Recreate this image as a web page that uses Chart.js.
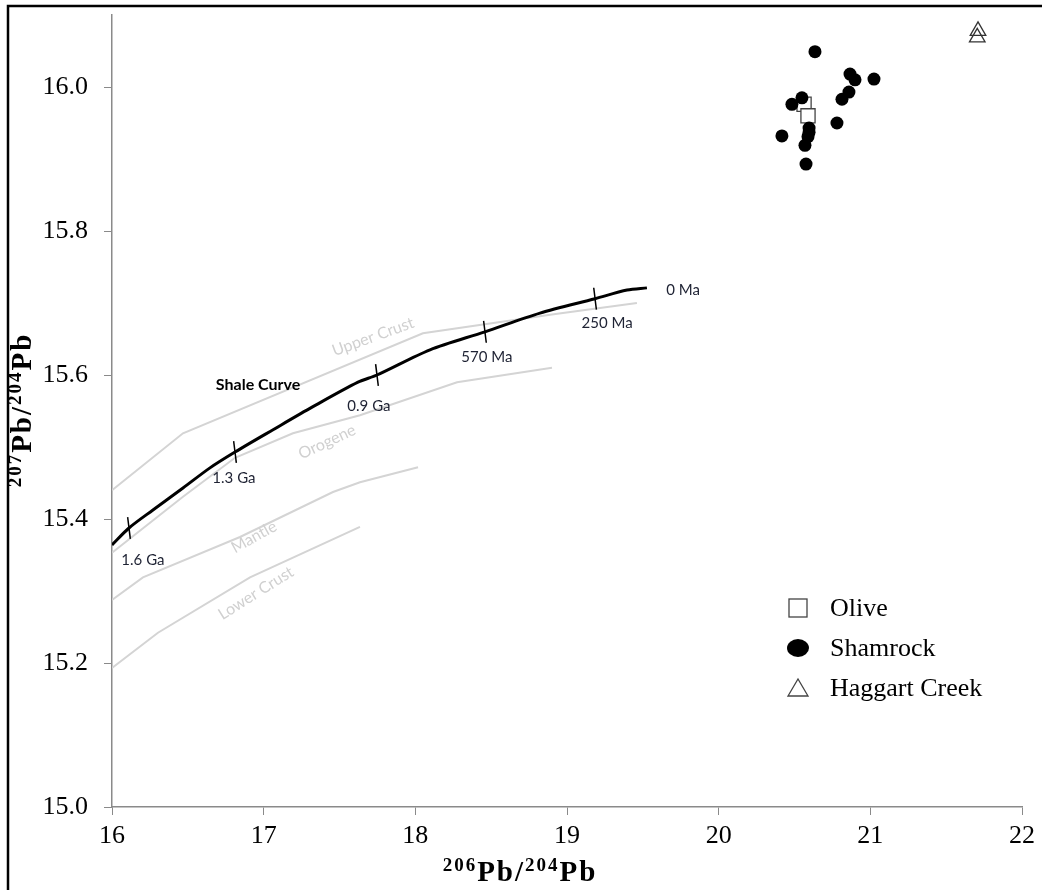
<!DOCTYPE html>
<html>
<head>
<meta charset="utf-8">
<script src="https://cdn.jsdelivr.net/npm/chart.js@4"></script>
<style>
  body { margin: 0; background: #fff; }
  #wrap { width: 1042px; height: 890px; position: relative; }
</style>
</head>
<body>
<div id="wrap"><canvas id="leadChart"></canvas></div>
<script>
// shale growth curve (206Pb/204Pb, 207Pb/204Pb)
const shaleX = [16.0, 16.112, 16.27, 16.468, 16.646, 16.811, 17.062, 17.325, 17.622, 17.747, 18.097, 18.459, 18.822, 19.185, 19.396, 19.527];
const shaleY = [15.364, 15.3875, 15.4125, 15.443, 15.471, 15.493, 15.524, 15.556, 15.59, 15.6, 15.635, 15.66, 15.686, 15.706, 15.718, 15.721];

// reservoir curves (grey)
const upperCrustX = [16.0, 16.468, 18.05, 18.9, 19.461];
const upperCrustY = [15.44, 15.519, 15.658, 15.684, 15.7];
const orogeneX = [16.0, 16.468, 16.811, 17.193, 17.635, 18.275, 18.901];
const orogeneY = [15.353, 15.431, 15.485, 15.519, 15.544, 15.59, 15.61];
const mantleX = [16.0, 16.204, 16.844, 17.457, 17.635, 18.018];
const mantleY = [15.2875, 15.319, 15.375, 15.4375, 15.451, 15.472];
const lowerCrustX = [16.0, 16.303, 16.91, 17.635];
const lowerCrustY = [15.193, 15.242, 15.319, 15.389];

// age marks on the shale curve
const ageX = [16.112, 16.811, 17.747, 18.459, 19.185];
const ageY = [15.3875, 15.493, 15.6, 15.66, 15.706];
const ageLabels = ["1.6 Ga", "1.3 Ga", "0.9 Ga", "570 Ma", "250 Ma", "0 Ma"];
const ageLabelX = [16.204, 16.804, 17.694, 18.472, 19.264, 19.765];
const ageLabelY = [15.343, 15.457, 15.557, 15.625, 15.672, 15.718];

// curve names
const curveNames = ["Shale Curve", "Upper Crust", "Orogene", "Mantle", "Lower Crust"];
const curveNameX = [16.963, 17.721, 17.418, 16.936, 16.949];
const curveNameY = [15.586, 15.653, 15.507, 15.375, 15.297];
const curveNameAngle = [0, -20, -25, -29, -32];

// samples
const shamrockX = [20.635, 20.866, 20.899, 21.024, 20.859, 20.813, 20.483, 20.549, 20.78, 20.417, 20.596, 20.596, 20.589, 20.569, 20.576];
const shamrockY = [16.049, 16.018, 16.01, 16.011, 15.993, 15.983, 15.976, 15.985, 15.95, 15.932, 15.943, 15.937, 15.931, 15.919, 15.893];
const oliveX = [20.563, 20.589];
const oliveY = [15.976, 15.96];
const haggartX = [21.71, 21.705];
const haggartY = [16.078, 16.069];

const legendNames = ["Olive", "Shamrock", "Haggart Creek"];

function toPoints(xs, ys) {
    return xs.map(function(x, i) { return {x: x, y: ys[i]}; });
}

function greyLine(xs, ys) {
    return {
        data: toPoints(xs, ys),
        showLine: true,
        borderColor: "#d4d4d4",
        borderWidth: 2,
        pointRadius: 0,
        tension: 0,
        order: 5
    };
}

// draws "207Pb/204Pb" style text with raised isotope numbers, baseline at cy
function drawIsotopeText(ctx, parts, cx, cy) {
    var bigFont = "bold 29px 'Liberation Serif'";
    var smallFont = "bold 19px 'Liberation Serif'";
    ctx.letterSpacing = "2px";
    var total = 0;
    parts.forEach(function(p) {
        ctx.font = p.sup ? smallFont : bigFont;
        total += ctx.measureText(p.t).width;
    });
    var x = cx - total / 2;
    ctx.textBaseline = "alphabetic";
    ctx.textAlign = "left";
    parts.forEach(function(p) {
        ctx.font = p.sup ? smallFont : bigFont;
        ctx.fillText(p.t, x, p.sup ? cy - 10 : cy);
        x += ctx.measureText(p.t).width;
    });
    ctx.letterSpacing = "0px";
}

const annotationPlugin = {
    id: "annotations",
    beforeDraw: function(chart) {
        var ctx = chart.ctx;
        ctx.save();
        ctx.fillStyle = "#fff";
        ctx.fillRect(0, 0, chart.width, chart.height);
        // frame lines at top and left
        ctx.strokeStyle = "#000";
        ctx.lineWidth = 2.5;
        ctx.beginPath();
        ctx.moveTo(8, 890);
        ctx.lineTo(8, 6);
        ctx.lineTo(1042, 6);
        ctx.stroke();
        ctx.restore();
    },
    afterDatasetsDraw: function(chart) {
        var ctx = chart.ctx;
        var xs = chart.scales.x;
        var ys = chart.scales.y;
        ctx.save();

        // age labels
        ctx.font = "15px Lato";
        ctx.fillStyle = "#1e2233";
        ctx.textAlign = "center";
        ctx.textBaseline = "middle";
        ageLabels.forEach(function(label, i) {
            ctx.fillText(label, xs.getPixelForValue(ageLabelX[i]), ys.getPixelForValue(ageLabelY[i]));
        });

        // curve names
        curveNames.forEach(function(name, i) {
            var px = xs.getPixelForValue(curveNameX[i]);
            var py = ys.getPixelForValue(curveNameY[i]);
            ctx.save();
            ctx.translate(px, py);
            ctx.rotate(curveNameAngle[i] * Math.PI / 180);
            if (i === 0) {
                ctx.font = "bold 16px Lato";
                ctx.fillStyle = "#000";
            } else {
                ctx.font = "16px Lato";
                ctx.fillStyle = "#d0d0d0";
            }
            ctx.fillText(name, 0, 0);
            ctx.restore();
        });

        // legend
        var lx = 798;
        var ly = [608, 648, 688];
        ctx.strokeStyle = "#444";
        ctx.lineWidth = 1.3;
        ctx.strokeRect(lx - 9, ly[0] - 9, 18, 18);
        ctx.fillStyle = "#000";
        ctx.beginPath();
        ctx.ellipse(lx, ly[1], 11, 9, 0, 0, Math.PI * 2);
        ctx.fill();
        ctx.beginPath();
        ctx.moveTo(lx - 10, ly[2] + 8);
        ctx.lineTo(lx + 10, ly[2] + 8);
        ctx.lineTo(lx, ly[2] - 9);
        ctx.closePath();
        ctx.stroke();
        ctx.font = "26px 'Liberation Serif'";
        ctx.fillStyle = "#000";
        ctx.textAlign = "left";
        legendNames.forEach(function(name, i) {
            ctx.fillText(name, 830, ly[i] + 1);
        });

        // axis titles
        ctx.fillStyle = "#000";
        drawIsotopeText(ctx, [{t: "206", sup: true}, {t: "Pb/"}, {t: "204", sup: true}, {t: "Pb"}], 520, 881);
        ctx.save();
        ctx.translate(0, 410);
        ctx.rotate(-Math.PI / 2);
        drawIsotopeText(ctx, [{t: "207", sup: true}, {t: "Pb/"}, {t: "204", sup: true}, {t: "Pb"}], 0, 31);
        ctx.restore();

        ctx.restore();
    }
};

var ctx = document.getElementById("leadChart");
var myChart = new Chart(ctx, {
    type: "scatter",
    data: {
        datasets: [
            {
                label: "Shamrock",
                data: toPoints(shamrockX, shamrockY),
                pointStyle: "circle",
                pointRadius: 6.5,
                backgroundColor: "#000",
                borderColor: "#000",
                borderWidth: 0,
                order: 1
            },
            {
                label: "Olive",
                data: toPoints(oliveX, oliveY),
                pointStyle: "rect",
                pointRadius: 10,
                backgroundColor: "#fff",
                borderColor: "#444",
                borderWidth: 1.3,
                order: 2
            },
            {
                label: "Haggart Creek",
                data: toPoints(haggartX, haggartY),
                pointStyle: "triangle",
                pointRadius: 9,
                backgroundColor: "rgba(255,255,255,0)",
                borderColor: "#333",
                borderWidth: 1.3,
                order: 1
            },
            {
                label: "Age marks",
                data: toPoints(ageX, ageY),
                pointStyle: "line",
                rotation: 83,
                pointRadius: 11,
                borderColor: "#000",
                borderWidth: 1.5,
                order: 3
            },
            {
                label: "Shale Curve",
                data: toPoints(shaleX, shaleY),
                showLine: true,
                borderColor: "#000",
                borderWidth: 3,
                pointRadius: 0,
                tension: 0.3,
                order: 4
            },
            greyLine(upperCrustX, upperCrustY),
            greyLine(orogeneX, orogeneY),
            greyLine(mantleX, mantleY),
            greyLine(lowerCrustX, lowerCrustY)
        ]
    },
    options: {
        responsive: true,
        maintainAspectRatio: false,
        animation: false,
        layout: {padding: {top: 0, right: 20, left: 0, bottom: 0}},
        plugins: {
            legend: {display: false},
            tooltip: {enabled: false}
        },
        scales: {
            x: {
                type: "linear",
                min: 16,
                max: 22,
                afterFit: function(scale) { scale.height = 83; },
                ticks: {
                    stepSize: 1,
                    padding: 6,
                    color: "#000",
                    font: {family: "Liberation Serif", size: 26}
                },
                grid: {drawOnChartArea: false, color: "#8a8a8a", tickLength: 8},
                border: {color: "#8a8a8a", width: 1.5}
            },
            y: {
                type: "linear",
                min: 15,
                max: 16.1,
                afterFit: function(scale) { scale.width = 112; scale.paddingTop = 15; },
                ticks: {
                    stepSize: 0.2,
                    includeBounds: false,
                    padding: 16,
                    color: "#000",
                    font: {family: "Liberation Serif", size: 26},
                    callback: function(value) { return Number(value).toFixed(1); }
                },
                grid: {drawOnChartArea: false, color: "#8a8a8a", tickLength: 8},
                border: {color: "#8a8a8a", width: 1.5}
            }
        }
    },
    plugins: [annotationPlugin]
});
</script>
</body>
</html>
